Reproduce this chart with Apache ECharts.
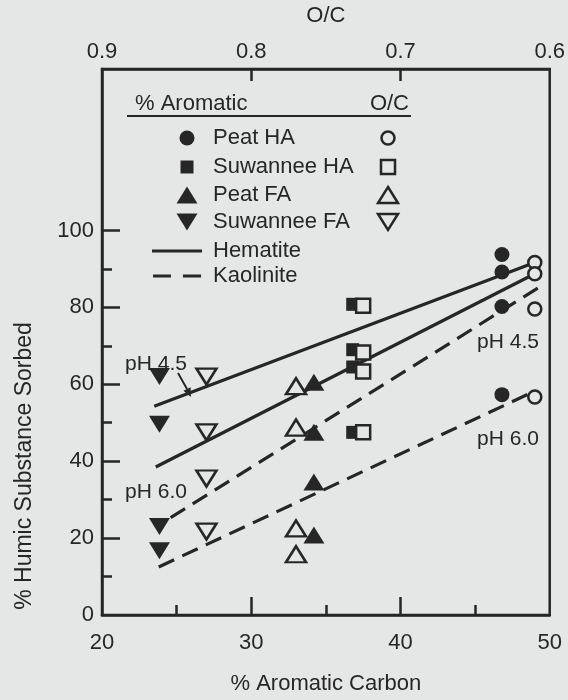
<!DOCTYPE html>
<html>
<head>
<meta charset="utf-8">
<script src="https://cdn.jsdelivr.net/npm/echarts@6/dist/echarts.min.js"></script>
<style>
  html, body { margin: 0; padding: 0; background: #e5e7e6; }
  #chart { width: 568px; height: 700px; }
</style>
</head>
<body>
<div id="chart"></div>
<script>
// Humic substances, their aromatic carbon content and O/C ratio
const substances = ['Peat HA', 'Suwannee HA', 'Peat FA', 'Suwannee FA'];
const aromaticPct = [46.8, 36.8, 34.2, 23.85];
const ocRatio = [0.61, 0.725, 0.77, 0.83];

// % sorbed for the four sorbent / pH runs, plotted against % aromatic (filled)
const sorbedPeatHA = [93.75, 89.2, 80.25, 57.3];
const sorbedSuwHA = [80.8, 69, 64.5, 47.5];
const sorbedPeatFA = [60.5, 47.5, 34.6, 20.8];
const sorbedSuwFA = [62, 49.6, 23, 16.7];

// same runs plotted against O/C (open)
const sorbedPeatHA_oc = [91.7, 88.75, 79.6, 56.7];
const sorbedSuwHA_oc = [80.4, 68.3, 63.3, 47.5];
const sorbedPeatFA_oc = [59.5, 48.75, 22.5, 15.8];
const sorbedSuwFA_oc = [62, 47.5, 35.5, 21.7];

// fitted trend lines (start and end, in % aromatic / % sorbed)
const fitNames = ['Hematite', 'Hematite', 'Kaolinite', 'Kaolinite'];
const fitLabels = ['pH 4.5', 'pH 6.0', 'pH 4.5', 'pH 6.0'];
const fitStart = [[23.5, 54.3], [23.6, 38.5], [24.6, 25.3], [23.8, 12.5]];
const fitEnd = [[49.0, 91.7], [49.0, 88.75], [49.2, 85], [48.6, 57.5]];

// axis ticks
const xTicks = [20, 30, 40, 50];
const xMinorTicks = [25, 35, 45];
const yTicks = [0, 20, 40, 60, 80, 100];
const yMinorTicks = [10, 30, 50, 70, 90];
const ocTicks = [0.9, 0.8, 0.7, 0.6];

const INK = '#262626';
const BG = '#e5e7e6';
const FONT = '"Liberation Sans", Arial, Helvetica, sans-serif';
const Y_MAX = 142;

const chart = echarts.init(document.getElementById('chart'), null, { renderer: 'canvas' });

const filledSym = [
  { symbol: 'circle', size: 15, rotate: 0 },
  { symbol: 'rect', size: 13, rotate: 0 },
  { symbol: 'triangle', size: [21, 17], rotate: 0 },
  { symbol: 'triangle', size: [21, 17], rotate: 180 }
];
const openSym = [
  { symbol: 'circle', size: 13, rotate: 0 },
  { symbol: 'rect', size: 14, rotate: 0 },
  { symbol: 'triangle', size: [20, 16], rotate: 0 },
  { symbol: 'triangle', size: [20, 16], rotate: 180 }
];
const filledVals = [sorbedPeatHA, sorbedSuwHA, sorbedPeatFA, sorbedSuwFA];
const openVals = [sorbedPeatHA_oc, sorbedSuwHA_oc, sorbedPeatFA_oc, sorbedSuwFA_oc];

const series = [];

// trend lines first so markers sit on top
fitNames.forEach((name, i) => {
  series.push({
    name: name,
    type: 'line',
    xAxisIndex: 0,
    yAxisIndex: 0,
    data: [fitStart[i], fitEnd[i]],
    symbol: 'none',
    silent: true,
    z: 1,
    lineStyle: {
      color: INK,
      width: 3.2,
      type: name === 'Hematite' ? 'solid' : [17, 9]
    }
  });
});

substances.forEach((s, i) => {
  series.push({
    name: s,
    type: 'scatter',
    xAxisIndex: 0,
    yAxisIndex: 0,
    z: 3,
    symbol: filledSym[i].symbol,
    symbolSize: filledSym[i].size,
    symbolRotate: filledSym[i].rotate,
    itemStyle: { color: INK, opacity: 1 },
    data: filledVals[i].map(v => [aromaticPct[i], v])
  });
});

substances.forEach((s, i) => {
  series.push({
    name: s + ' (O/C)',
    type: 'scatter',
    xAxisIndex: 2,
    yAxisIndex: 0,
    z: 4,
    symbol: openSym[i].symbol,
    symbolSize: openSym[i].size,
    symbolRotate: openSym[i].rotate,
    itemStyle: { color: BG, borderColor: INK, borderWidth: 2.5, opacity: 1 },
    data: openVals[i].map(v => [ocRatio[i], v])
  });
});

// ---- legend block and annotations ----
const graphics = [];
const txt = (x, y, text, align, size, extra) => Object.assign({
  type: 'text', x: x, y: y, silent: true, z: 10,
  style: { text: text, fill: INK, font: (size || 22) + 'px ' + FONT, textAlign: align || 'left', textVerticalAlign: 'middle' }
}, extra || {});

graphics.push(txt(135, 104, '% Aromatic'));
graphics.push(txt(409, 104, 'O/C', 'right'));
graphics.push({ type: 'line', silent: true, shape: { x1: 127, y1: 116, x2: 411, y2: 116 }, style: { stroke: INK, lineWidth: 2 } });

const rowsY = [138, 167, 195, 222, 251, 276];
const keyX = 187, openX = 388, labelX = 213;

function keySymbol(kind, cx, cy, filled) {
  const style = filled ? { fill: INK } : { fill: BG, stroke: INK, lineWidth: 2.5 };
  if (kind === 0) return { type: 'circle', silent: true, shape: { cx: cx, cy: cy, r: filled ? 7.5 : 6.5 }, style: style };
  if (kind === 1) { const h = filled ? 6.5 : 7; return { type: 'rect', silent: true, shape: { x: cx - h, y: cy - h, width: 2 * h, height: 2 * h }, style: style }; }
  const w = filled ? 10.5 : 10, hh = filled ? 8.5 : 8;
  if (kind === 2) return { type: 'polygon', silent: true, shape: { points: [[cx, cy - hh], [cx + w, cy + hh], [cx - w, cy + hh]] }, style: style };
  return { type: 'polygon', silent: true, shape: { points: [[cx - w, cy - hh], [cx + w, cy - hh], [cx, cy + hh]] }, style: style };
}

substances.forEach((s, i) => {
  graphics.push(keySymbol(i, keyX, rowsY[i], true));
  graphics.push(txt(labelX, rowsY[i], s));
  graphics.push(keySymbol(i, openX, rowsY[i], false));
});
graphics.push({ type: 'line', silent: true, shape: { x1: 152, y1: rowsY[4], x2: 202, y2: rowsY[4] }, style: { stroke: INK, lineWidth: 3 } });
graphics.push(txt(labelX, rowsY[4], 'Hematite'));
graphics.push({ type: 'line', silent: true, shape: { x1: 153, y1: rowsY[5], x2: 202, y2: rowsY[5] }, style: { stroke: INK, lineWidth: 3, lineDash: [18, 12] } });
graphics.push(txt(labelX, rowsY[5], 'Kaolinite'));

// pH labels beside the trend lines
graphics.push(txt(156, 364, fitLabels[0], 'center', 21));
graphics.push(txt(156, 492, fitLabels[1], 'center', 21));
graphics.push(txt(508, 342, fitLabels[2], 'center', 21));
graphics.push(txt(508, 439, fitLabels[3], 'center', 21));
// arrow from the left pH 4.5 label to its line
graphics.push({ type: 'line', silent: true, shape: { x1: 178, y1: 373, x2: 187, y2: 389 }, style: { stroke: INK, lineWidth: 2 } });
graphics.push({ type: 'polygon', silent: true, shape: { points: [[191, 397], [183.4, 390.8], [190.6, 387.2]] }, style: { fill: INK } });

// y-axis title
graphics.push(txt(25, 466, '% Humic Substance Sorbed', 'center', 23, { rotation: Math.PI / 2 }));

const axisLineStyle = { color: INK, width: 2.5 };
const labelStyle = { color: INK, fontSize: 22, fontFamily: FONT };

chart.setOption({
  backgroundColor: BG,
  animation: false,
  grid: {
    left: 102, right: 16, top: 62, bottom: 70,
    show: true, borderColor: INK, borderWidth: 2.5, backgroundColor: 'transparent'
  },
  xAxis: [
    {
      type: 'value', position: 'bottom', min: 20, max: 50,
      axisLine: { show: true, lineStyle: axisLineStyle },
      axisTick: { show: true, inside: true, length: 18, customValues: [30, 40], lineStyle: axisLineStyle },
      axisLabel: Object.assign({ customValues: xTicks, margin: 17 }, labelStyle),
      splitLine: { show: false },
      name: '% Aromatic Carbon', nameLocation: 'middle', nameGap: 58,
      nameTextStyle: labelStyle
    },
    {
      type: 'value', position: 'bottom', min: 20, max: 50,
      axisLine: { show: false },
      axisTick: { show: true, inside: true, length: 10, customValues: xMinorTicks, lineStyle: axisLineStyle },
      axisLabel: { show: false },
      splitLine: { show: false }
    },
    {
      type: 'value', position: 'top', min: 0.6, max: 0.9, inverse: true,
      axisLine: { show: true, lineStyle: axisLineStyle },
      axisTick: { show: true, inside: true, length: 12, customValues: [0.8, 0.7], lineStyle: axisLineStyle },
      axisLabel: Object.assign({ customValues: ocTicks, margin: 6, formatter: v => v.toFixed(1) }, labelStyle),
      splitLine: { show: false },
      name: 'O/C', nameLocation: 'middle', nameGap: 42,
      nameTextStyle: labelStyle
    }
  ],
  yAxis: [
    {
      type: 'value', position: 'left', min: 0, max: Y_MAX,
      axisLine: { show: true, lineStyle: axisLineStyle },
      axisTick: { show: true, inside: true, length: 18, customValues: [20, 40, 60, 80, 100], lineStyle: axisLineStyle },
      axisLabel: Object.assign({ customValues: yTicks, margin: 8 }, labelStyle),
      splitLine: { show: false }
    },
    {
      type: 'value', position: 'left', min: 0, max: Y_MAX,
      axisLine: { show: false },
      axisTick: { show: true, inside: true, length: 10, customValues: yMinorTicks, lineStyle: axisLineStyle },
      axisLabel: { show: false },
      splitLine: { show: false }
    }
  ],
  graphic: graphics,
  series: series
});
</script>
</body>
</html>
